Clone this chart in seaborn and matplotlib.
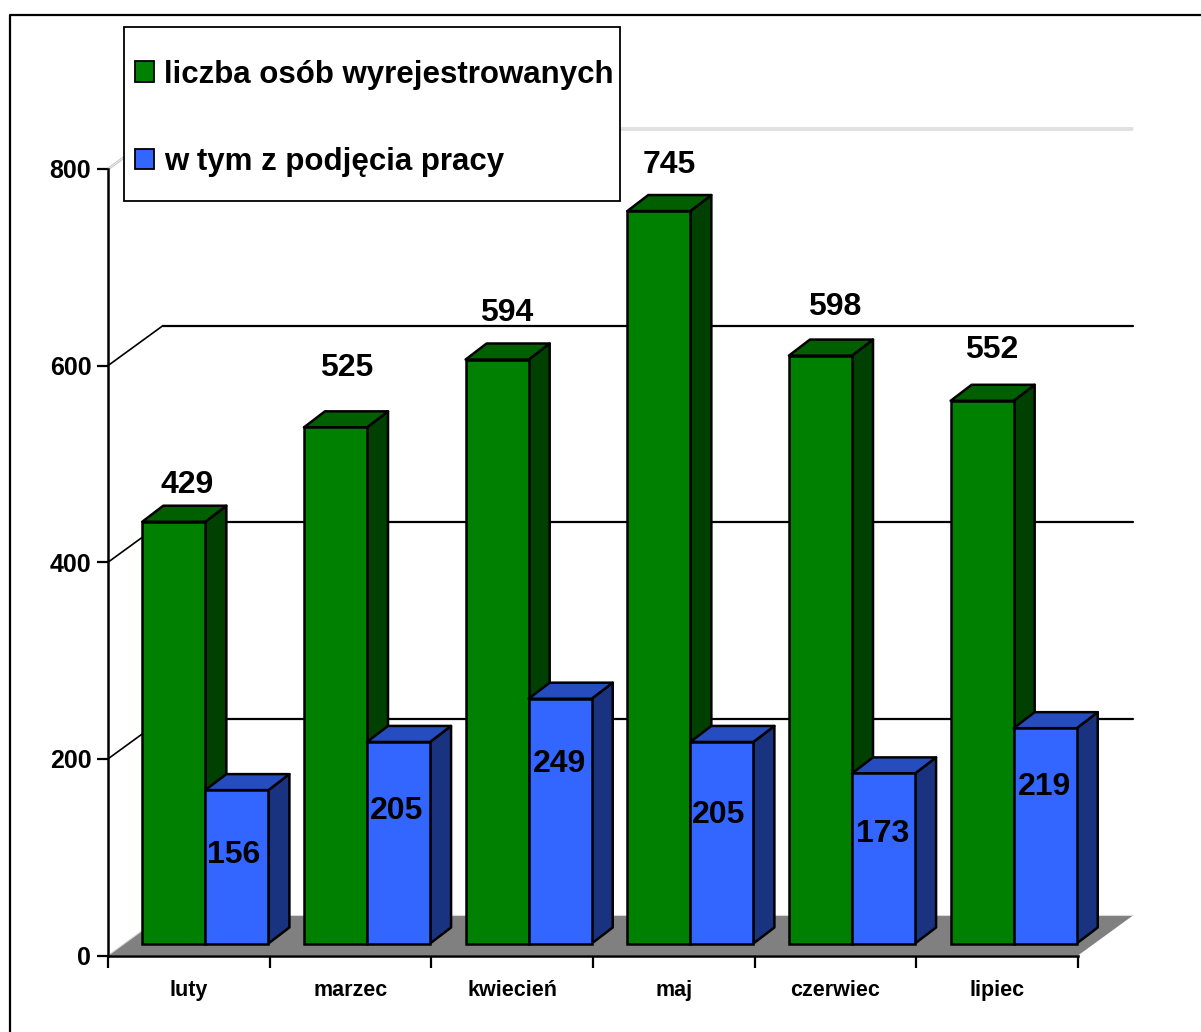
# plot.py
# 3D-looking clustered bars: people deregistered per month
import pandas as pd
import seaborn as sns
import matplotlib
matplotlib.use("Agg")
import matplotlib.pyplot as plt
from matplotlib.patches import Polygon, Rectangle
from matplotlib.lines import Line2D

months = ['luty', 'marzec', 'kwiecień', 'maj', 'czerwiec', 'lipiec']
wyrejestrowani = [429, 525, 594, 745, 598, 552]
podjecie_pracy = [156, 205, 249, 205, 173, 219]
series_names = ['liczba osób wyrejestrowanych', 'w tym z podjęcia pracy']
y_ticks = [0, 200, 400, 600, 800]

sns.set_theme(style='white')
plt.rcParams['font.family'] = ['Liberation Sans', 'DejaVu Sans']
plt.rcParams['font.weight'] = 'bold'
plt.rcParams['text.color'] = 'black'
plt.rcParams['xtick.color'] = 'black'
plt.rcParams['ytick.color'] = 'black'

W, H = 1201, 1032
fig = plt.figure(figsize=(W / 100, H / 100), dpi=100, facecolor='white')


def box(left, right, bottom, top):
    # pixel box (y down, as in the picture) to figure fractions
    return [left / W, 1 - bottom / H, (right - left) / W, (bottom - top) / H]


LW = 1.8
# axis and back wall
ax = fig.add_axes(box(108, 1078, 955.5, 169))
ax.set_xlim(-0.5, 5.5)
ax.set_ylim(0, 800)
ax.patch.set_alpha(0)
sns.despine(ax=ax)
for s in ['left', 'bottom']:
    ax.spines[s].set_linewidth(1.8)
    ax.spines[s].set_color('black')

ax.set_yticks(y_ticks)
ax.tick_params(axis='y', left=True, length=8, width=1.6, pad=4, labelsize=18)
ax.set_xticks(range(len(months)))
ax.set_xticklabels(months, fontsize=15.5, va='baseline')
ax.tick_params(axis='x', which='major', bottom=False, pad=23.5)
ax.set_xticks([i - 0.5 for i in range(len(months) + 1)], minor=True)
ax.tick_params(axis='x', which='minor', bottom=True, length=8.5, width=1.6)

wall_dx, wall_dy = 0.34, 40.7
x0, x1 = -0.5, 5.5
floor = Polygon([(x0, 0), (x1, 0), (x1 + wall_dx, wall_dy), (x0 + wall_dx, wall_dy)],
                closed=True, fc='#808080', ec='none', zorder=1, clip_on=False)
ax.add_patch(floor)
ax.plot([x0, x0 + wall_dx, x1 + wall_dx], [0, wall_dy, wall_dy], color='#d8d8d8',
        lw=0.8, clip_on=False, zorder=1.5)
for v in y_ticks[1:]:
    if v == 800:
        # top edge of the wall is a pale double line
        for shift in (-1, 1):
            ax.plot([x0, x0 + wall_dx, x1 + wall_dx],
                    [v + shift, v + wall_dy + shift, v + wall_dy + shift],
                    color='#c4c4c4', lw=0.72, clip_on=False, zorder=1)
    else:
        ax.plot([x0, x0 + wall_dx], [v, v + wall_dy], color='black', lw=1.2,
                clip_on=False, zorder=1)
        ax.plot([x0 + wall_dx, x1 + wall_dx], [v + wall_dy, v + wall_dy], color='black',
                lw=1.6, clip_on=False, zorder=1)

# bars sit on the floor, shifted right and up from the axis
ax2 = fig.add_axes(box(124.5, 1094.5, 943.5, 157))
df = pd.DataFrame({
    'month': months * 2,
    'value': wyrejestrowani + podjecie_pracy,
    'series': [series_names[0]] * 6 + [series_names[1]] * 6,
})
front = ['#008000', '#3366FF']
side = ['#004000', '#1A3380']
top = ['#006000', '#264DBF']
sns.barplot(data=df, x='month', y='value', hue='series', palette=front, saturation=1,
            width=0.78, gap=0, edgecolor='black', linewidth=LW, ax=ax2)
ax2.set_xlim(-0.5, 5.5)
ax2.set_ylim(0, 800)
ax2.axis('off')
handles, labels = ax2.get_legend_handles_labels()
ax2.get_legend().remove()

bar_dx, bar_dy = 0.13, 16.3
for i, cont in enumerate(ax2.containers):
    for p in cont:
        x, w, h = p.get_x(), p.get_width(), p.get_height()
        p.set_zorder(2.5 + i)
        p.set_clip_on(False)
        ax2.add_patch(Polygon([(x + w, 0), (x + w + bar_dx, bar_dy),
                               (x + w + bar_dx, h + bar_dy), (x + w, h)],
                              closed=True, fc=side[i], ec='black', lw=LW,
                              zorder=2 + i, clip_on=False, joinstyle='round'))
        ax2.add_patch(Polygon([(x, h), (x + bar_dx, h + bar_dy),
                               (x + w + bar_dx, h + bar_dy), (x + w, h)],
                              closed=True, fc=top[i], ec='black', lw=LW,
                              zorder=2 + i, clip_on=False, joinstyle='round'))

# value labels, hand placed around the bars (pixels from bar top centre)
green_off = [(13, 37), (11, 59), (9, 47), (10, 46), (14, 49), (9, 51)]
blue_off = [(-3, -65), (-2, -69), (-1, -65), (-3, -73), (-1, -61), (-1, -59)]
for cont, vals, offs in zip(ax2.containers, [wyrejestrowani, podjecie_pracy], [green_off, blue_off]):
    for p, v, off in zip(cont, vals, offs):
        ax2.annotate(str(v), (p.get_x() + p.get_width() / 2, p.get_height()), xytext=off,
                     textcoords='offset pixels', ha='center', va='center', fontsize=23,
                     fontweight='bold', color='black', zorder=6, annotation_clip=False)

# legend box is drawn apart so the entries can sit off-centre inside it
fig.add_artist(Rectangle((124 / W, 1 - 201 / H), 496 / W, 174 / H, transform=fig.transFigure,
                         fc='white', ec='black', lw=1.3, zorder=4))
leg = fig.legend(handles, labels, loc='upper left', bbox_to_anchor=(135 / W, 1 - 59.5 / H),
                 fontsize=22.5, frameon=False, borderaxespad=0, borderpad=0, labelspacing=1.83,
                 handlelength=0.62, handleheight=0.62, handletextpad=0.32)
for h in leg.get_patches():
    h.set_edgecolor('black')
    h.set_linewidth(1.3)

# outer frame runs off the right and bottom of the picture
fig.add_artist(Line2D([9.5 / W, 9.5 / W, 1], [0, 1 - 15 / H, 1 - 15 / H], color='black',
                      lw=1.6, transform=fig.transFigure))

fig.savefig('out.png', dpi=100)
